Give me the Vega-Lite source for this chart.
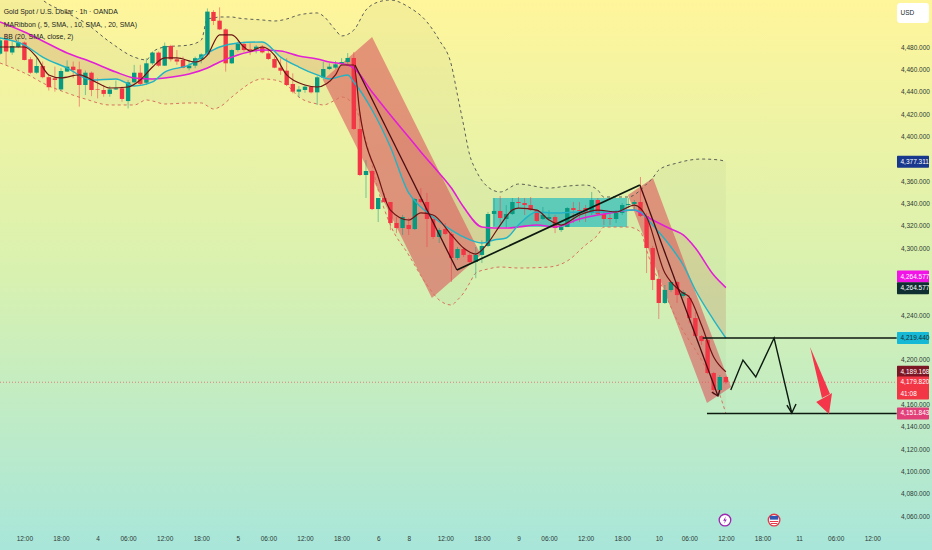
{
  "$schema": "https://vega.github.io/schema/vega-lite/v6.json",
  "autosize": {"type": "none"},
  "padding": 0,
  "width": 932,
  "height": 550,
  "background": "#c8eebf",
  "config": {"view": {"stroke": null}, "font": "Liberation Sans"},
  "datasets": {
    "bg": [{"n": 0, "n2": 152.79, "p": 4029.6, "p2": 4522.1}],
    "candles": [
      {"n":0,"o":4474,"h":4489,"l":4473,"c":4486,"d":"up"},
      {"n":1,"o":4486,"h":4492,"l":4464,"c":4476,"d":"down"},
      {"n":2,"o":4475,"h":4485,"l":4473,"c":4481,"d":"up"},
      {"n":3,"o":4480,"h":4488,"l":4479,"c":4484,"d":"up"},
      {"n":4,"o":4484,"h":4485,"l":4468,"c":4468.4,"d":"down"},
      {"n":5,"o":4469,"h":4471,"l":4456,"c":4457,"d":"down"},
      {"n":6,"o":4457,"h":4470,"l":4456,"c":4463,"d":"up"},
      {"n":7,"o":4463,"h":4467,"l":4452,"c":4453,"d":"down"},
      {"n":8,"o":4453,"h":4455,"l":4441,"c":4444,"d":"down"},
      {"n":9,"o":4452,"h":4462.4,"l":4440,"c":4450.5,"d":"down"},
      {"n":10,"o":4442,"h":4461,"l":4441,"c":4458.5,"d":"up"},
      {"n":11,"o":4458,"h":4468,"l":4457.6,"c":4462.4,"d":"up"},
      {"n":12,"o":4462.4,"h":4467,"l":4452,"c":4459.4,"d":"down"},
      {"n":13,"o":4460,"h":4467,"l":4426.6,"c":4446,"d":"down"},
      {"n":14,"o":4446,"h":4459,"l":4437,"c":4457,"d":"up"},
      {"n":15,"o":4457,"h":4458,"l":4436,"c":4441.5,"d":"down"},
      {"n":16,"o":4442,"h":4452,"l":4434,"c":4441.5,"d":"down"},
      {"n":17,"o":4441.5,"h":4446,"l":4435.5,"c":4438,"d":"down"},
      {"n":18,"o":4438,"h":4445,"l":4435.5,"c":4442,"d":"up"},
      {"n":19,"o":4442,"h":4450,"l":4441.5,"c":4443,"d":"up"},
      {"n":20,"o":4443,"h":4444.5,"l":4431,"c":4433.5,"d":"down"},
      {"n":21,"o":4431.6,"h":4450.5,"l":4425,"c":4448.4,"d":"up"},
      {"n":22,"o":4448.4,"h":4464,"l":4447.5,"c":4457,"d":"up"},
      {"n":23,"o":4457,"h":4464,"l":4446,"c":4447,"d":"down"},
      {"n":24,"o":4448,"h":4470,"l":4446,"c":4465.4,"d":"up"},
      {"n":25,"o":4465.4,"h":4476,"l":4464,"c":4475,"d":"up"},
      {"n":26,"o":4475,"h":4476,"l":4462.4,"c":4463.3,"d":"down"},
      {"n":27,"o":4463.3,"h":4484,"l":4463,"c":4481,"d":"up"},
      {"n":28,"o":4481,"h":4482,"l":4467,"c":4469,"d":"down"},
      {"n":29,"o":4469,"h":4477.3,"l":4464,"c":4467,"d":"down"},
      {"n":30,"o":4468.4,"h":4471.4,"l":4461,"c":4461.5,"d":"down"},
      {"n":31,"o":4461,"h":4468.4,"l":4459,"c":4463.3,"d":"up"},
      {"n":32,"o":4463.3,"h":4471.4,"l":4461,"c":4470,"d":"up"},
      {"n":33,"o":4469,"h":4474.3,"l":4465.4,"c":4473.4,"d":"up"},
      {"n":34,"o":4473.4,"h":4514.6,"l":4472.8,"c":4511.7,"d":"up"},
      {"n":35,"o":4511.4,"h":4513,"l":4499.7,"c":4503.3,"d":"down"},
      {"n":36,"o":4503.6,"h":4515.5,"l":4495.2,"c":4495.8,"d":"down"},
      {"n":37,"o":4495.8,"h":4496.7,"l":4458,"c":4465.4,"d":"down"},
      {"n":38,"o":4465.4,"h":4478,"l":4464.8,"c":4477.3,"d":"up"},
      {"n":39,"o":4477.3,"h":4484.8,"l":4475.8,"c":4482.7,"d":"up"},
      {"n":40,"o":4482.7,"h":4484.8,"l":4475.8,"c":4477.3,"d":"down"},
      {"n":41,"o":4478,"h":4483.3,"l":4472.8,"c":4477.3,"d":"down"},
      {"n":42,"o":4478,"h":4481.8,"l":4474.3,"c":4480.3,"d":"up"},
      {"n":43,"o":4480.3,"h":4481.8,"l":4474.3,"c":4475.2,"d":"down"},
      {"n":44,"o":4474.3,"h":4477.3,"l":4468.4,"c":4469.3,"d":"down"},
      {"n":45,"o":4469.3,"h":4471.4,"l":4461,"c":4461.5,"d":"down"},
      {"n":46,"o":4461.5,"h":4469.9,"l":4455,"c":4458.8,"d":"down"},
      {"n":47,"o":4458.8,"h":4469.9,"l":4445,"c":4446,"d":"down"},
      {"n":48,"o":4446.9,"h":4456.4,"l":4438.5,"c":4440,"d":"down"},
      {"n":49,"o":4440,"h":4445,"l":4435,"c":4442,"d":"up"},
      {"n":50,"o":4441.5,"h":4446,"l":4439,"c":4444.5,"d":"up"},
      {"n":51,"o":4444.5,"h":4445,"l":4438.5,"c":4439.4,"d":"down"},
      {"n":52,"o":4439.4,"h":4454,"l":4428,"c":4452.9,"d":"up"},
      {"n":53,"o":4452.6,"h":4466.9,"l":4450.5,"c":4460.3,"d":"up"},
      {"n":54,"o":4460.3,"h":4465.4,"l":4459.4,"c":4462.4,"d":"up"},
      {"n":55,"o":4461.5,"h":4467.5,"l":4460.3,"c":4464.5,"d":"up"},
      {"n":56,"o":4464.8,"h":4470,"l":4463,"c":4466.6,"d":"up"},
      {"n":57,"o":4466.6,"h":4474.6,"l":4464.8,"c":4470.2,"d":"up"},
      {"n":58,"o":4470.2,"h":4475.5,"l":4405.7,"c":4406.6,"d":"down"},
      {"n":59,"o":4406.6,"h":4421.8,"l":4364.5,"c":4365.4,"d":"down"},
      {"n":60,"o":4365.4,"h":4378.8,"l":4344.8,"c":4369,"d":"up"},
      {"n":61,"o":4369,"h":4369.9,"l":4334,"c":4334.9,"d":"down"},
      {"n":62,"o":4334.9,"h":4344.8,"l":4323.3,"c":4344.8,"d":"up"},
      {"n":63,"o":4344.8,"h":4349.3,"l":4340.3,"c":4341.2,"d":"down"},
      {"n":64,"o":4341.2,"h":4341.2,"l":4316,"c":4322.4,"d":"down"},
      {"n":65,"o":4322.4,"h":4327.8,"l":4313.4,"c":4317.9,"d":"down"},
      {"n":66,"o":4317.9,"h":4329.6,"l":4311.7,"c":4327.8,"d":"up"},
      {"n":67,"o":4320.6,"h":4326.9,"l":4311.7,"c":4317,"d":"down"},
      {"n":68,"o":4317,"h":4344.8,"l":4316.1,"c":4343.9,"d":"up"},
      {"n":69,"o":4343.9,"h":4353.7,"l":4340.3,"c":4341.2,"d":"down"},
      {"n":70,"o":4341.2,"h":4349.3,"l":4300.9,"c":4326,"d":"down"},
      {"n":71,"o":4326,"h":4327.8,"l":4308.1,"c":4309.9,"d":"down"},
      {"n":72,"o":4309.9,"h":4317.9,"l":4304.5,"c":4316.1,"d":"up"},
      {"n":73,"o":4317,"h":4322.4,"l":4311.7,"c":4312.6,"d":"down"},
      {"n":74,"o":4312.6,"h":4314.4,"l":4269.6,"c":4291.1,"d":"down"},
      {"n":75,"o":4291.1,"h":4300.9,"l":4289.3,"c":4299.1,"d":"up"},
      {"n":76,"o":4299.1,"h":4300.9,"l":4292,"c":4293.8,"d":"down"},
      {"n":77,"o":4293.8,"h":4295.5,"l":4286.6,"c":4287.5,"d":"down"},
      {"n":78,"o":4287.5,"h":4300.9,"l":4273,"c":4293.8,"d":"up"},
      {"n":79,"o":4293.8,"h":4307,"l":4286.6,"c":4301.8,"d":"up"},
      {"n":80,"o":4301.8,"h":4332.3,"l":4300.9,"c":4330.5,"d":"up"},
      {"n":81,"o":4330.5,"h":4344.8,"l":4319.7,"c":4333.2,"d":"up"},
      {"n":82,"o":4333.2,"h":4346.6,"l":4322.4,"c":4326.9,"d":"down"},
      {"n":83,"o":4326,"h":4338.5,"l":4317.9,"c":4330.5,"d":"up"},
      {"n":84,"o":4330.5,"h":4344.8,"l":4329.6,"c":4341.2,"d":"up"},
      {"n":85,"o":4341.2,"h":4345.7,"l":4335.8,"c":4340.3,"d":"down"},
      {"n":86,"o":4340.3,"h":4344.8,"l":4329.6,"c":4338.5,"d":"down"},
      {"n":87,"o":4338.5,"h":4345.7,"l":4333.2,"c":4334,"d":"down"},
      {"n":88,"o":4334,"h":4334.9,"l":4323.3,"c":4324.2,"d":"down"},
      {"n":89,"o":4326,"h":4336.7,"l":4325.1,"c":4329.6,"d":"up"},
      {"n":90,"o":4326,"h":4334,"l":4325.1,"c":4327.8,"d":"up"},
      {"n":91,"o":4327.8,"h":4329.6,"l":4313.4,"c":4317.9,"d":"down"},
      {"n":92,"o":4316.1,"h":4320.6,"l":4314.4,"c":4318.8,"d":"up"},
      {"n":93,"o":4318.8,"h":4336.7,"l":4318.8,"c":4335.8,"d":"up"},
      {"n":94,"o":4335.8,"h":4341.2,"l":4322.4,"c":4334,"d":"down"},
      {"n":95,"o":4334,"h":4341.2,"l":4323.3,"c":4333.2,"d":"down"},
      {"n":96,"o":4335.8,"h":4338.5,"l":4323.3,"c":4331.4,"d":"down"},
      {"n":97,"o":4331.4,"h":4350.2,"l":4329.6,"c":4343,"d":"up"},
      {"n":98,"o":4343,"h":4344.8,"l":4329.6,"c":4330.5,"d":"down"},
      {"n":99,"o":4330.5,"h":4332.3,"l":4320.6,"c":4326,"d":"down"},
      {"n":100,"o":4326.9,"h":4332.3,"l":4320.6,"c":4326,"d":"down"},
      {"n":101,"o":4326,"h":4334,"l":4322.4,"c":4331.4,"d":"up"},
      {"n":102,"o":4331.4,"h":4340.3,"l":4329.6,"c":4338.5,"d":"up"},
      {"n":103,"o":4338.5,"h":4344.8,"l":4335.8,"c":4339.4,"d":"up"},
      {"n":104,"o":4339.4,"h":4343,"l":4334,"c":4341.2,"d":"up"},
      {"n":105,"o":4341.2,"h":4363.6,"l":4327.8,"c":4328.7,"d":"down"},
      {"n":106,"o":4328.7,"h":4331.4,"l":4277.6,"c":4300,"d":"down"},
      {"n":107,"o":4300,"h":4301.8,"l":4262.4,"c":4271.4,"d":"down"},
      {"n":108,"o":4272.3,"h":4280.3,"l":4236.4,"c":4250.8,"d":"down"},
      {"n":109,"o":4250.8,"h":4266.9,"l":4249.9,"c":4262.4,"d":"up"},
      {"n":110,"o":4262.4,"h":4269.6,"l":4260.6,"c":4269.6,"d":"up"},
      {"n":111,"o":4269.6,"h":4270.5,"l":4250.8,"c":4257.9,"d":"down"},
      {"n":112,"o":4257,"h":4262.4,"l":4255.2,"c":4260.6,"d":"up"},
      {"n":113,"o":4255.2,"h":4257.9,"l":4232.8,"c":4237.3,"d":"down"},
      {"n":114,"o":4237.3,"h":4242.7,"l":4220.3,"c":4221.2,"d":"down"},
      {"n":115,"o":4221.2,"h":4222.1,"l":4213.2,"c":4216.7,"d":"down"},
      {"n":116,"o":4217.6,"h":4219.4,"l":4187.2,"c":4188.1,"d":"down"},
      {"n":117,"o":4188.1,"h":4189,"l":4168.4,"c":4172.9,"d":"down"},
      {"n":118,"o":4172.9,"h":4186.3,"l":4168.4,"c":4184.5,"d":"up"},
      {"n":119,"o":4184.5,"h":4185.4,"l":4178.2,"c":4179.8,"d":"down"}
    ],
    "ma": [
      {"n":0,"ma20":4502.4,"ma10":4488.1},{"n":4,"ma20":4493.4,"ma10":4481.8},{"n":7,"ma20":4485.4,"ma10":4471},
      {"n":11,"ma20":4474.6,"ma10":4461.2},{"n":15,"ma20":4466.6,"ma10":4450.5},{"n":19,"ma20":4457.6,"ma10":4451.4},
      {"n":22,"ma20":4452.3,"ma10":4445.1},{"n":25,"ma20":4451.4,"ma10":4448.7},{"n":27,"ma20":4452.3,"ma10":4457.6},
      {"n":31,"ma20":4455.8,"ma10":4463.9},{"n":34,"ma20":4461.2,"ma10":4474.6},{"n":36,"ma20":4466.6,"ma10":4480},
      {"n":39,"ma20":4472.9,"ma10":4483.6},{"n":43,"ma20":4477.3,"ma10":4484.5},{"n":46,"ma20":4476.4,"ma10":4471},
      {"n":49,"ma20":4472,"ma10":4462.1},{"n":52,"ma20":4469.3,"ma10":4455},{"n":54,"ma20":4466.6,"ma10":4451.4},
      {"n":57,"ma20":4463.9,"ma10":4455},{"n":58,"ma20":4461.2,"ma10":4448.7},{"n":61,"ma20":4439.7,"ma10":4423.6},
      {"n":64,"ma20":4419.1,"ma10":4390.5},{"n":67,"ma20":4399.4,"ma10":4349.3},{"n":69,"ma20":4386,"ma10":4336.7},
      {"n":71,"ma20":4373.4,"ma10":4327.8},{"n":74,"ma20":4353.7,"ma10":4316.1},{"n":76,"ma20":4336.7,"ma10":4309.9},
      {"n":79,"ma20":4318.8,"ma10":4304.5},{"n":81,"ma20":4317.9,"ma10":4307.2},{"n":83,"ma20":4317.9,"ma10":4309},
      {"n":85,"ma20":4318.8,"ma10":4320.6},{"n":88,"ma20":4320.6,"ma10":4332.3},{"n":91,"ma20":4318.8,"ma10":4331.4},
      {"n":95,"ma20":4326,"ma10":4332.3},{"n":99,"ma20":4330.5,"ma10":4332.3},{"n":104,"ma20":4334,"ma10":4334},
      {"n":105,"ma20":4331.4,"ma10":4332.3},{"n":107,"ma20":4325.1,"ma10":4320.6},{"n":110,"ma20":4317,"ma10":4300.9},
      {"n":112,"ma20":4311.7,"ma10":4284.8},{"n":114,"ma20":4300,"ma10":4262.4},{"n":117,"ma20":4275.8,"ma10":4235.5},
      {"n":119,"ma20":4264.6,"ma10":4219.4}
    ],
    "ma5": [
      {"n":0,"p":4480},{"n":4,"p":4480},{"n":6,"p":4471},{"n":8,"p":4455},{"n":10,"p":4452.3},{"n":13,"p":4455},
      {"n":16,"p":4447.8},{"n":18,"p":4443.3},{"n":21,"p":4444.2},{"n":23,"p":4450.5},{"n":25,"p":4462.1},{"n":27,"p":4470.2},
      {"n":29,"p":4470.2},{"n":32,"p":4466.6},{"n":34,"p":4472.8},{"n":36,"p":4490.8},{"n":38,"p":4490.8},{"n":40,"p":4480},
      {"n":41,"p":4476.4},{"n":43,"p":4480},{"n":45,"p":4472.8},{"n":47,"p":4455},{"n":50,"p":4446},{"n":52,"p":4444.2},
      {"n":55,"p":4455},{"n":56,"p":4463.9},{"n":58,"p":4463.9},{"n":59,"p":4420.9},{"n":62,"p":4363.6},{"n":64,"p":4334},
      {"n":67,"p":4325.1},{"n":69,"p":4331.4},{"n":71,"p":4329.6},{"n":74,"p":4311.7},{"n":76,"p":4300},{"n":78,"p":4294.6},
      {"n":80,"p":4304.5},{"n":82,"p":4320.6},{"n":84,"p":4334},{"n":85,"p":4335.8},{"n":88,"p":4334},{"n":90,"p":4325.1},
      {"n":92,"p":4320.6},{"n":95,"p":4329.6},{"n":98,"p":4334},{"n":101,"p":4332.3},{"n":104,"p":4338.5},{"n":106,"p":4327.8},
      {"n":109,"p":4277.6},{"n":110,"p":4269.6},{"n":112,"p":4259.7},{"n":113,"p":4256.1},{"n":115,"p":4231},{"n":117,"p":4202.4},
      {"n":119,"p":4189.2}
    ],
    "bb": [
      {"n":0,"up":4557.9,"lo":4465.7},{"n":5,"up":4532.8,"lo":4454},{"n":7,"up":4522.1,"lo":4447.8},{"n":11,"up":4510.5,"lo":4438.8},
      {"n":14,"up":4501.5,"lo":4433.4},{"n":18,"up":4484.5,"lo":4428.1},{"n":22,"up":4471,"lo":4428.1},{"n":24,"up":4468.4,"lo":4432.6},
      {"n":25,"up":4475.5,"lo":4431.7},{"n":27,"up":4480,"lo":4429},{"n":31,"up":4481.8,"lo":4429.9},{"n":33,"up":4486.3,"lo":4429.9},
      {"n":34,"up":4505.1,"lo":4427.2},{"n":35,"up":4506,"lo":4424.5},{"n":36,"up":4506.9,"lo":4426.3},{"n":38,"up":4506.9,"lo":4435.2},
      {"n":39,"up":4506,"lo":4439.7},{"n":43,"up":4504.2,"lo":4451.4},{"n":45,"up":4503.3,"lo":4450.5},{"n":47,"up":4505.1,"lo":4446},
      {"n":49,"up":4508.7,"lo":4435.2},{"n":52,"up":4510.5,"lo":4429},{"n":53,"up":4507.8,"lo":4428.1},{"n":55,"up":4495.2,"lo":4432.6},
      {"n":56,"up":4489.9,"lo":4435.2},{"n":58,"up":4495.2,"lo":4428.1},{"n":60,"up":4513.2,"lo":4396.7},{"n":62,"up":4520.3,"lo":4351.9},
      {"n":64,"up":4522.1,"lo":4320.6},{"n":67,"up":4515.8,"lo":4293.8},{"n":70,"up":4502.4,"lo":4266.9},{"n":72,"up":4486.3,"lo":4253.5},
      {"n":74,"up":4463.9,"lo":4249},{"n":75,"up":4437,"lo":4253.5},{"n":76,"up":4410.2,"lo":4259.7},{"n":77,"up":4383.3,"lo":4268.7},
      {"n":78,"up":4369.9,"lo":4277.6},{"n":80,"up":4354.6,"lo":4281.2},{"n":82,"up":4350.2,"lo":4283},{"n":85,"up":4357.3,"lo":4282.1},
      {"n":90,"up":4353.7,"lo":4283},{"n":93,"up":4355.5,"lo":4288.4},{"n":96,"up":4356.4,"lo":4302.7},{"n":98,"up":4351.9,"lo":4311.7},
      {"n":99,"up":4345.7,"lo":4318.8},{"n":103,"up":4345.7,"lo":4318.8},{"n":105,"up":4351.9,"lo":4314.4},{"n":106,"up":4357.3,"lo":4298.2},
      {"n":107,"up":4362.7,"lo":4282.1},{"n":108,"up":4369.9,"lo":4271.4},{"n":111,"up":4376.1,"lo":4235.5},{"n":115,"up":4379.7,"lo":4199.7},
      {"n":118,"up":4378.8,"lo":4168.4},{"n":119,"up":4377.3,"lo":4151.8}
    ],
    "shapes": [
      {"s":"ch1","n":52.95,"p":4450.5,"p2":4450.5},{"s":"ch1","n":61,"p":4489,"p2":4362.7},{"s":"ch1","n":70.8,"p":4381.5,"p2":4255.2},{"s":"ch1","n":78.85,"p":4293.7,"p2":4293.7},
      {"s":"ch2","n":102.95,"p":4347.5,"p2":4347.5},{"s":"ch2","n":107.05,"p":4362.7,"p2":4288.4},{"s":"ch2","n":115.9,"p":4232.9,"p2":4161.2},{"s":"ch2","n":119.85,"p":4175.5,"p2":4175.5}
    ],
    "arrow": [
      {"s":"shaft","n":132.8,"p":4211.4,"p2":4211.4},{"s":"shaft","n":134.75,"p":4186.3,"p2":4165.7},{"s":"shaft","n":136.07,"p":4169.3,"p2":4169.3},
      {"s":"head","n":133.8,"p":4162.1,"p2":4162.1},{"s":"head","n":135.9,"p":4168.4,"p2":4151.4},{"s":"head","n":136.4,"p":4170.2,"p2":4170.2}
    ],
    "drawn": [
      {"k":"dark","s":"a1","n":58.2,"p":4463.9},{"k":"dark","s":"a1","n":74.9,"p":4280.3},
      {"k":"dark","s":"a2","n":104.9,"p":4356.4},{"k":"dark","s":"a2","n":117.7,"p":4167.5},
      {"k":"dark","s":"a3","n":116.7,"p":4171},{"k":"dark","s":"a3","n":117.7,"p":4167.5},{"k":"dark","s":"a3","n":118,"p":4172.9},
      {"k":"trend","s":"t1","n":74.9,"p":4280.3},{"k":"trend","s":"t1","n":104.9,"p":4356.4},
      {"k":"trend","s":"h1","n":115.2,"p":4219.44},{"k":"trend","s":"h1","n":147,"p":4219.44},
      {"k":"trend","s":"h2","n":115.9,"p":4151.84},{"k":"trend","s":"h2","n":147,"p":4151.84},
      {"k":"zig","s":"z1","n":119.8,"p":4172.9},{"k":"zig","s":"z1","n":121.8,"p":4199.7},{"k":"zig","s":"z1","n":123.9,"p":4184.5},{"k":"zig","s":"z1","n":126.9,"p":4219.4},{"k":"zig","s":"z1","n":129.8,"p":4152.3},
      {"k":"zig","s":"z2","n":129,"p":4159.4},{"k":"zig","s":"z2","n":129.8,"p":4152.3},{"k":"zig","s":"z2","n":130.5,"p":4160.3}
    ],
    "tags": [
      {"tag":"usd","n":147.05,"n2":152.3,"p":4510.5,"label":"USD"},
      {"tag":"bbup","n":147.05,"n2":152.3,"p":4377.311,"label":"4,377.311"},
      {"tag":"ma20","n":147.05,"n2":152.3,"p":4274.5,"label":"4,264.577"},
      {"tag":"ma20b","n":147.05,"n2":152.3,"p":4264.0,"label":"4,264.577"},
      {"tag":"ma10","n":147.05,"n2":152.3,"p":4219.44,"label":"4,219.440"},
      {"tag":"ma5","n":147.05,"n2":152.3,"p":4189.168,"label":"4,189.168"},
      {"tag":"last","n":147.05,"n2":152.3,"p":4179.6,"label":"4,179.820"},
      {"tag":"last2","n":147.05,"n2":152.3,"p":4169.7,"label":"41:08"},
      {"tag":"bblo","n":147.05,"n2":152.3,"p":4151.843,"label":"4,151.843"}
    ],
    "head": [
      {"n":0.6,"p":4511.4,"label":"Gold Spot / U.S. Dollar · 1h · OANDA","w":"a"},
      {"n":0.6,"p":4499.7,"label":"MARibbon (, 5, SMA, , 10, SMA, , 20, SMA)","w":"b"},
      {"n":0.6,"p":4489,"label":"BB (20, SMA, close, 2)","w":"b"}
    ],
    "icons": [
      {"n":118.85,"p":4056.4,"ic":"flash"},
      {"n":126.9,"p":4056.4,"ic":"flag"}
    ]
  },
  "encoding": {
    "x": {
      "field": "n",
      "type": "quantitative",
      "title": null,
      "scale": {"domain": [0, 152.79], "nice": false, "zero": false, "padding": 0},
      "axis": {
        "orient": "bottom",
        "offset": -18,
        "domain": false,
        "ticks": false,
        "grid": false,
        "zindex": 1,
        "labelPadding": 3,
        "labelFontSize": 6.5,
        "labelColor": "#2e3a36",
        "labelOverlap": false,
        "labelFlush": false,
        "values": [4,10,16,21,27,33,39,44,50,56,62,67,73,79,85,90,96,102,108,113,119,125,131,137,143],
        "labelExpr": "datum.value==16?'4':datum.value==39?'5':datum.value==62?'6':datum.value==67?'8':datum.value==85?'9':datum.value==108?'10':datum.value==131?'11':(datum.value==21||datum.value==44||datum.value==90||datum.value==113||datum.value==137)?'06:00':(datum.value==4||datum.value==27||datum.value==50||datum.value==73||datum.value==96||datum.value==119||datum.value==143)?'12:00':'18:00'"
      }
    },
    "y": {
      "field": "p",
      "type": "quantitative",
      "title": null,
      "scale": {"domain": [4029.6, 4522.1], "nice": false, "zero": false, "padding": 0},
      "axis": {
        "orient": "right",
        "offset": -36,
        "domain": false,
        "ticks": false,
        "grid": false,
        "zindex": 1,
        "labelPadding": 4.5,
        "labelFontSize": 6.5,
        "labelColor": "#2e3a36",
        "labelOverlap": false,
        "labelFlush": false,
        "format": ",.3f",
        "values": [4060,4080,4100,4120,4140,4160,4200,4240,4300,4320,4340,4360,4400,4420,4440,4460,4480]
      }
    }
  },
  "layer": [
    {
      "data": {"name": "bg"},
      "mark": {
        "type": "rect",
        "fill": {
          "gradient": "linear", "x1": 0, "y1": 0, "x2": 0, "y2": 1,
          "stops": [
            {"offset": 0, "color": "#fff59b"},
            {"offset": 0.5, "color": "#d8f1b0"},
            {"offset": 1, "color": "#a8e6da"}
          ]
        }
      },
      "encoding": {"x2": {"field": "n2"}, "y2": {"field": "p2"}}
    },
    {
      "data": {"name": "bb"},
      "mark": {"type": "area", "interpolate": "monotone", "fill": "#7f9a70", "opacity": 0.07, "clip": true},
      "encoding": {
        "y": {"field": "up", "type": "quantitative"},
        "y2": {"field": "lo"}
      }
    },
    {
      "data": {"name": "ma"},
      "mark": {"type": "area", "interpolate": "monotone", "fill": "#c9805f", "opacity": 0.22},
      "encoding": {
        "y": {"field": "ma20", "type": "quantitative"},
        "y2": {"field": "ma10"}
      }
    },
    {
      "data": {"name": "shapes"},
      "mark": {"type": "area", "fill": "#dc585d", "opacity": 0.6},
      "encoding": {"detail": {"field": "s"}, "y2": {"field": "p2"}}
    },
    {
      "data": {"values": [{"n": 80.8, "n2": 102.8, "p": 4344.8, "p2": 4318.8}]},
      "mark": {"type": "rect", "fill": "#10b8c4", "opacity": 0.62},
      "encoding": {"x2": {"field": "n2"}, "y2": {"field": "p2"}}
    },
    {
      "data": {"name": "bb"},
      "mark": {"type": "line", "interpolate": "monotone", "color": "#5b5f57", "strokeWidth": 1, "strokeDash": [3, 3], "clip": true},
      "encoding": {"y": {"field": "up", "type": "quantitative"}}
    },
    {
      "data": {"name": "bb"},
      "mark": {"type": "line", "interpolate": "monotone", "color": "#d9725f", "strokeWidth": 1, "strokeDash": [3, 3]},
      "encoding": {"y": {"field": "lo", "type": "quantitative"}}
    },
    {
      "data": {"values": [{"n": 0, "n2": 147, "p": 4179.82}]},
      "mark": {"type": "rule", "color": "#e8505a", "strokeWidth": 0.7, "strokeDash": [1, 2]},
      "encoding": {"x2": {"field": "n2"}}
    },
    {
      "data": {"name": "candles"},
      "mark": {"type": "rule", "strokeWidth": 1, "opacity": 0.5},
      "encoding": {
        "y": {"field": "l", "type": "quantitative"},
        "y2": {"field": "h"},
        "color": {"field": "d", "type": "nominal", "legend": null, "scale": {"domain": ["up", "down"], "range": ["#089981", "#f23645"]}}
      }
    },
    {
      "data": {"name": "candles"},
      "mark": {"type": "bar", "width": 4.4},
      "encoding": {
        "y": {"field": "o", "type": "quantitative"},
        "y2": {"field": "c"},
        "color": {"field": "d", "type": "nominal", "legend": null}
      }
    },
    {
      "data": {"name": "ma"},
      "mark": {"type": "line", "interpolate": "monotone", "color": "#e31fd6", "strokeWidth": 1.6},
      "encoding": {"y": {"field": "ma20", "type": "quantitative"}}
    },
    {
      "data": {"name": "ma"},
      "mark": {"type": "line", "interpolate": "monotone", "color": "#22b3c4", "strokeWidth": 1.4},
      "encoding": {"y": {"field": "ma10", "type": "quantitative"}}
    },
    {
      "data": {"name": "ma5"},
      "mark": {"type": "line", "interpolate": "monotone", "color": "#6e1414", "strokeWidth": 1.2}
    },
    {
      "data": {"name": "drawn"},
      "transform": [{"filter": "datum.k==='dark'"}],
      "mark": {"type": "line", "color": "#4a0d12", "strokeWidth": 1.3},
      "encoding": {"detail": {"field": "s"}}
    },
    {
      "data": {"name": "drawn"},
      "transform": [{"filter": "datum.k==='trend'"}],
      "mark": {"type": "line", "color": "#0c1a10", "strokeWidth": 1.7},
      "encoding": {"detail": {"field": "s"}}
    },
    {
      "data": {"name": "drawn"},
      "transform": [{"filter": "datum.k==='zig'"}],
      "mark": {"type": "line", "color": "#0c1a10", "strokeWidth": 1.4},
      "encoding": {"detail": {"field": "s"}}
    },
    {
      "data": {"name": "arrow"},
      "mark": {"type": "area", "fill": "#f5364a"},
      "encoding": {"detail": {"field": "s"}, "y2": {"field": "p2"}}
    },
    {
      "data": {"name": "tags"},
      "transform": [{"filter": "datum.tag==='usd'"}],
      "mark": {"type": "bar", "height": 20, "cornerRadius": 3, "fill": "#ffffff"},
      "encoding": {"x2": {"field": "n2"}}
    },
    {
      "data": {"name": "tags"},
      "transform": [{"filter": "datum.tag!=='usd'"}],
      "mark": {"type": "bar", "height": 12, "cornerRadius": 1},
      "encoding": {
        "x2": {"field": "n2"},
        "fill": {
          "field": "tag",
          "type": "nominal",
          "legend": null,
          "scale": {
            "domain": ["bbup", "ma20", "ma20b", "ma10", "ma5", "last", "last2", "bblo"],
            "range": ["#17388c", "#f213e6", "#0f2f33", "#15b9d6", "#7d1624", "#f23645", "#f23645", "#e23f78"]
          }
        }
      }
    },
    {
      "data": {"name": "tags"},
      "mark": {"type": "text", "align": "left", "baseline": "middle", "fontSize": 6.5, "dx": 3.5},
      "encoding": {
        "text": {"field": "label"},
        "fill": {"condition": {"test": "datum.tag==='usd'||datum.tag==='ma10'", "value": "#1d2b30"}, "value": "#ffffff"}
      }
    },
    {
      "data": {"name": "head"},
      "mark": {"type": "text", "align": "left", "baseline": "middle", "fontSize": 6.9, "color": "#1c2420"},
      "encoding": {
        "text": {"field": "label"},
        "fontWeight": {"field": "w", "type": "nominal", "legend": null, "scale": {"domain": ["a", "b"], "range": ["bold", "normal"]}}
      }
    },
    {
      "data": {"name": "icons"},
      "mark": {"type": "point", "filled": true, "fill": "#ffffff", "size": 135, "strokeWidth": 1.3, "opacity": 1},
      "encoding": {
        "shape": {"value": "circle"},
        "stroke": {"field": "ic", "type": "nominal", "legend": null, "scale": {"domain": ["flash", "flag"], "range": ["#9c27b0", "#e5394a"]}}
      }
    },
    {
      "data": {"name": "icons"},
      "transform": [{"filter": "datum.ic==='flash'"}],
      "mark": {"type": "point", "filled": true, "fill": "#9c27b0", "size": 55, "opacity": 1, "shape": "M0.25,-1L-0.5,0.15H0L-0.25,1L0.5,-0.15H0Z"}
    },
    {
      "data": {"name": "icons"},
      "transform": [{"filter": "datum.ic==='flag'"}],
      "mark": {"type": "point", "filled": true, "fill": "#2f56b0", "size": 70, "opacity": 1, "shape": "M-1,-1H1V-0.1H-1Z"}
    },
    {
      "data": {"name": "icons"},
      "transform": [{"filter": "datum.ic==='flag'"}],
      "mark": {"type": "point", "filled": true, "fill": "#e5394a", "size": 70, "opacity": 1, "shape": "M-1,0.2H1V0.45H-1ZM-0.8,0.7H0.8V0.95H-0.8Z"}
    }
  ]
}
